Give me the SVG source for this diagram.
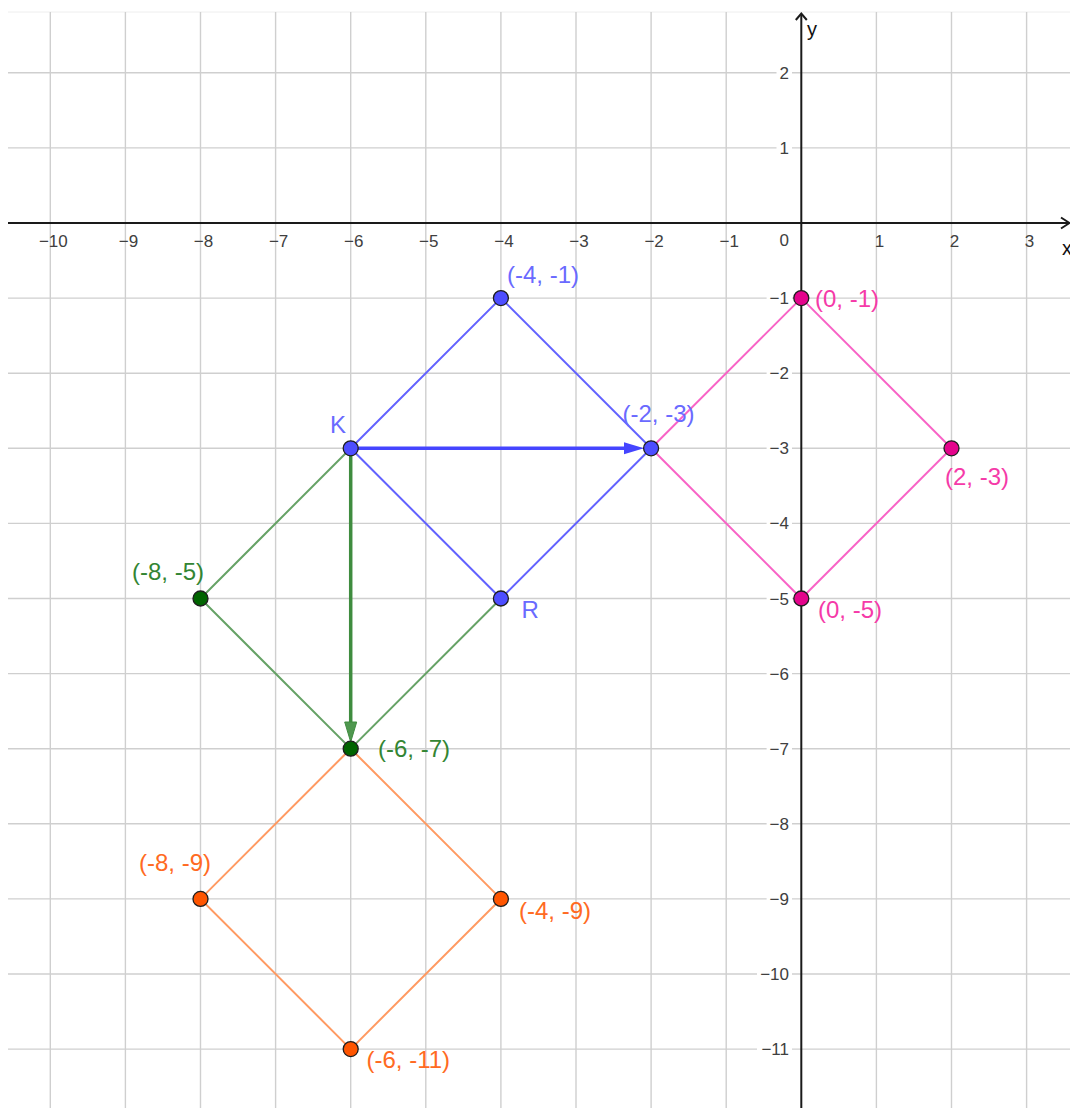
<svg xmlns="http://www.w3.org/2000/svg" width="1070" height="1108" viewBox="0 0 1070 1108">
<style>
.grid line{stroke:#cfcfcf;stroke-width:1.4}
.axis{stroke:#1a1a1a;stroke-width:2;fill:none}
.tick{font-family:"Liberation Sans",Arial,sans-serif;font-size:17px;fill:#404040}
.tx{text-anchor:middle}
.ty{text-anchor:end}
.tbg{fill:#fff}
.lbl{font-family:"Liberation Sans",Arial,sans-serif;font-size:24px}
.pt{stroke:#1e1e1e;stroke-width:1.3}
.seg{stroke-width:2;fill:none;stroke-linecap:round}
.blue{stroke:#6262ff}
.pink{stroke:#f863c6}
.green{stroke:#66a266}
.orange{stroke:#ff9a62}
.pb{fill:#4d4dff}.pg{fill:#006400}.pp{fill:#e4048c}.po{fill:#ff5500}
.lb{fill:#6a6aff}.lg{fill:#338533}.lp{fill:#f53aa8}.lo{fill:#ff6a22}
</style>
<rect x="0" y="0" width="1070" height="1108" fill="#fff"/>
<line x1="8" y1="12" x2="1070" y2="12" stroke="#eeeeee" stroke-width="1"/>
<g class="grid">
<line x1="50.3" y1="12" x2="50.3" y2="1108"/>
<line x1="125.4" y1="12" x2="125.4" y2="1108"/>
<line x1="200.5" y1="12" x2="200.5" y2="1108"/>
<line x1="275.6" y1="12" x2="275.6" y2="1108"/>
<line x1="350.7" y1="12" x2="350.7" y2="1108"/>
<line x1="425.8" y1="12" x2="425.8" y2="1108"/>
<line x1="500.9" y1="12" x2="500.9" y2="1108"/>
<line x1="576" y1="12" x2="576" y2="1108"/>
<line x1="651.1" y1="12" x2="651.1" y2="1108"/>
<line x1="726.2" y1="12" x2="726.2" y2="1108"/>
<line x1="876.4" y1="12" x2="876.4" y2="1108"/>
<line x1="951.5" y1="12" x2="951.5" y2="1108"/>
<line x1="1026.6" y1="12" x2="1026.6" y2="1108"/>
<line x1="8" y1="72.8" x2="1070" y2="72.8"/>
<line x1="8" y1="147.9" x2="1070" y2="147.9"/>
<line x1="8" y1="298.1" x2="1070" y2="298.1"/>
<line x1="8" y1="373.2" x2="1070" y2="373.2"/>
<line x1="8" y1="448.3" x2="1070" y2="448.3"/>
<line x1="8" y1="523.4" x2="1070" y2="523.4"/>
<line x1="8" y1="598.5" x2="1070" y2="598.5"/>
<line x1="8" y1="673.6" x2="1070" y2="673.6"/>
<line x1="8" y1="748.7" x2="1070" y2="748.7"/>
<line x1="8" y1="823.8" x2="1070" y2="823.8"/>
<line x1="8" y1="898.9" x2="1070" y2="898.9"/>
<line x1="8" y1="974" x2="1070" y2="974"/>
<line x1="8" y1="1049.1" x2="1070" y2="1049.1"/>
</g>
<g id="axes">
<line class="axis" x1="8" y1="223" x2="1069" y2="223"/>
<polyline class="axis" points="1061,217.5 1069.5,223 1061,228.5"/>
<line class="axis" x1="801.3" y1="14" x2="801.3" y2="1108"/>
<polyline class="axis" points="795.8,20 801.3,13.5 806.8,20"/>
<text x="1062" y="255" font-family="Liberation Sans, Arial, sans-serif" font-size="20" fill="#111">x</text>
<text x="807" y="36" font-family="Liberation Sans, Arial, sans-serif" font-size="20" fill="#111">y</text>
</g>
<g id="ticks-x" class="tick tx">
<text x="53.3" y="247">−10</text>
<text x="128.4" y="247">−9</text>
<text x="203.5" y="247">−8</text>
<text x="278.6" y="247">−7</text>
<text x="353.7" y="247">−6</text>
<text x="428.8" y="247">−5</text>
<text x="503.9" y="247">−4</text>
<text x="579" y="247">−3</text>
<text x="654.1" y="247">−2</text>
<text x="729.2" y="247">−1</text>
<text x="879.4" y="247">1</text>
<text x="954.5" y="247">2</text>
<text x="1029.6" y="247">3</text>
</g>
<g id="ticks-y">
<g class="tbg">
<rect x="776.5" y="64.8" width="15.5" height="16"/>
<rect x="776.5" y="139.9" width="15.5" height="16"/>
<rect x="766.6" y="290.1" width="25.4" height="16"/>
<rect x="766.6" y="365.2" width="25.4" height="16"/>
<rect x="766.6" y="440.3" width="25.4" height="16"/>
<rect x="766.6" y="515.4" width="25.4" height="16"/>
<rect x="766.6" y="590.5" width="25.4" height="16"/>
<rect x="766.6" y="665.6" width="25.4" height="16"/>
<rect x="766.6" y="740.7" width="25.4" height="16"/>
<rect x="766.6" y="815.8" width="25.4" height="16"/>
<rect x="766.6" y="890.9" width="25.4" height="16"/>
<rect x="757" y="966" width="35" height="16"/>
<rect x="757" y="1041.1" width="35" height="16"/>
</g>
<g class="tick ty">
<text x="789" y="246">0</text>
<text x="789" y="78.8">2</text>
<text x="789" y="153.9">1</text>
<text x="789" y="304.1">−1</text>
<text x="789" y="379.2">−2</text>
<text x="789" y="454.3">−3</text>
<text x="789" y="529.4">−4</text>
<text x="789" y="604.5">−5</text>
<text x="789" y="679.6">−6</text>
<text x="789" y="754.7">−7</text>
<text x="789" y="829.8">−8</text>
<text x="789" y="904.9">−9</text>
<text x="789" y="980">−10</text>
<text x="789" y="1055.1">−11</text>
</g>
</g>
<g id="connectors">
<polyline class="seg pink" points="651.1,448.3 801.3,298.1 951.5,448.3 801.3,598.5 651.1,448.3"/>
<polyline class="seg orange" points="350.7,748.7 500.9,898.9 350.7,1049.1 200.5,898.9 350.7,748.7"/>
<polyline class="seg green" points="350.7,448.3 200.5,598.5 350.7,748.7 500.9,598.5"/>
<polyline class="seg blue" points="350.7,448.3 500.9,298.1 651.1,448.3 500.9,598.5 350.7,448.3"/>
<g id="vector-blue">
<line x1="350.7" y1="448.3" x2="628" y2="448.3" stroke="#4545ff" stroke-width="3.5"/>
<polygon points="644,448.3 624,442.3 624,454.3" fill="#4545ff"/>
</g>
<g id="vector-green">
<line x1="350.7" y1="448.3" x2="350.7" y2="726" stroke="#3f8c3f" stroke-width="3.5"/>
<polygon points="350.7,742 344.7,722 356.7,722" fill="#4f974f" stroke="#3f8c3f" stroke-width="1"/>
</g>
</g>
<g id="pt-a1"><circle class="pt pb" cx="500.9" cy="298.1" r="7.5"/><text class="lbl lb" x="507" y="283">(-4, -1)</text></g>
<g id="pt-K"><circle class="pt pb" cx="350.7" cy="448.3" r="7.5"/><text class="lbl lb" x="330" y="432.5">K</text></g>
<g id="pt-R"><circle class="pt pb" cx="500.9" cy="598.5" r="7.5"/><text class="lbl lb" x="521.5" y="618">R</text></g>
<g id="pt-a2"><circle class="pt pb" cx="651.1" cy="448.3" r="7.5"/><text class="lbl lb" x="622.5" y="421.5">(-2, -3)</text></g>
<g id="pt-p1"><circle class="pt pp" cx="801.3" cy="298.1" r="7.5"/><text class="lbl lp" x="815" y="306.5">(0, -1)</text></g>
<g id="pt-p2"><circle class="pt pp" cx="951.5" cy="448.3" r="7.5"/><text class="lbl lp" x="945" y="485">(2, -3)</text></g>
<g id="pt-p3"><circle class="pt pp" cx="801.3" cy="598.5" r="7.5"/><text class="lbl lp" x="818" y="618">(0, -5)</text></g>
<g id="pt-g1"><circle class="pt pg" cx="200.5" cy="598.5" r="7.5"/><text class="lbl lg" x="132" y="580">(-8, -5)</text></g>
<g id="pt-g2"><circle class="pt pg" cx="350.7" cy="748.7" r="7.5"/><text class="lbl lg" x="378" y="756.5">(-6, -7)</text></g>
<g id="pt-o1"><circle class="pt po" cx="200.5" cy="898.9" r="7.5"/><text class="lbl lo" x="139" y="870.7">(-8, -9)</text></g>
<g id="pt-o2"><circle class="pt po" cx="500.9" cy="898.9" r="7.5"/><text class="lbl lo" x="519" y="919.3">(-4, -9)</text></g>
<g id="pt-o3"><circle class="pt po" cx="350.7" cy="1049.1" r="7.5"/><text class="lbl lo" x="366.5" y="1068">(-6, -11)</text></g>
</svg>
